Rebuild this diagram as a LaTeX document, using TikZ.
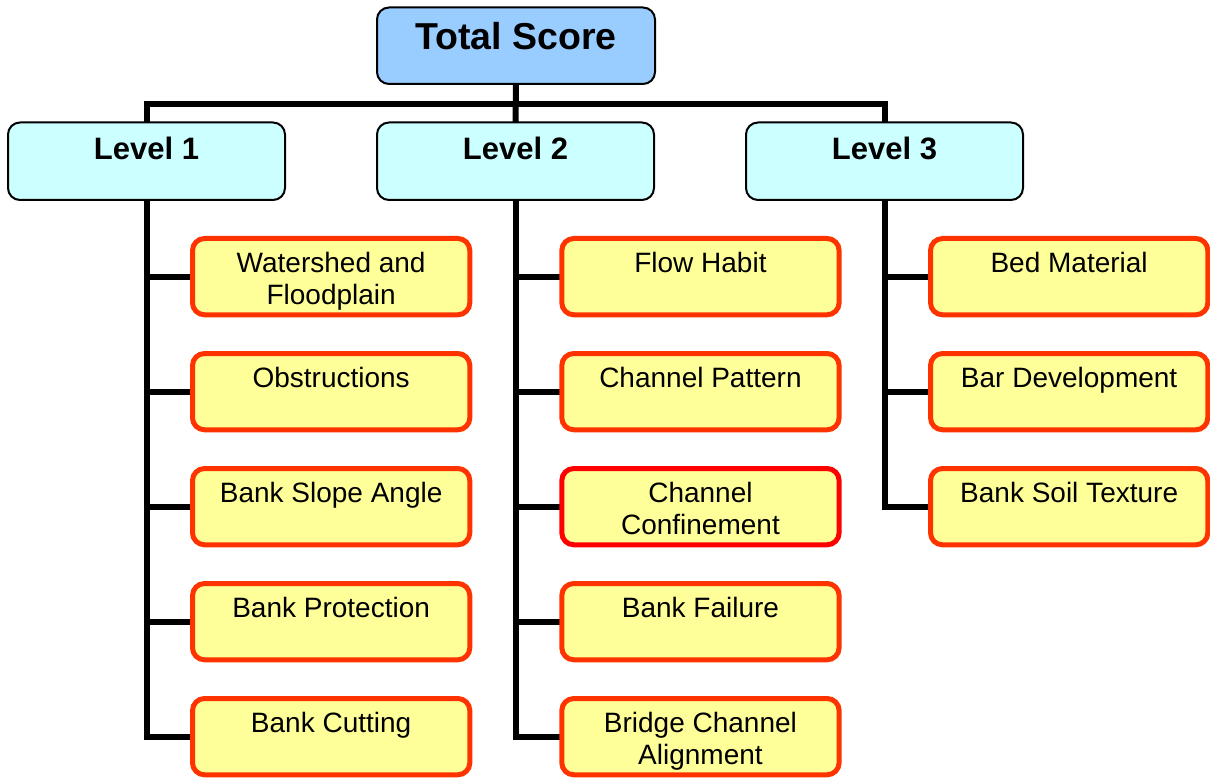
\documentclass[tikz,border=0pt]{standalone}
\usepackage{fontspec}
\setmainfont{Liberation Sans}
\usetikzlibrary{backgrounds}
\definecolor{totfill}{HTML}{99CCFF}
\definecolor{lvlfill}{HTML}{CCFFFF}
\definecolor{itemfill}{HTML}{FFFF99}
\definecolor{itemedge}{HTML}{FF3300}
\definecolor{rededge}{HTML}{FF0000}
\begin{document}
\begin{tikzpicture}[x=1pt,y=-1pt,
  totbox/.style={draw=black, line width=2pt, fill=totfill, rounded corners=12pt,
    minimum width=278pt, minimum height=76.5pt, inner sep=0pt, outer sep=0pt, anchor=north west,
    label={[anchor=north, inner sep=0pt, yshift=-15pt, font=\fontsize{37.5}{42}\selectfont\bfseries]north:#1}},
  lvlbox/.style={draw=black, line width=2pt, fill=lvlfill, rounded corners=12pt,
    minimum width=277pt, minimum height=77.5pt, inner sep=0pt, outer sep=0pt, anchor=north west,
    label={[anchor=north, inner sep=0pt, yshift=-13.9pt, font=\fontsize{31}{36}\selectfont\bfseries]north:#1}},
  itembox/.style={draw=itemedge, line width=5pt, fill=itemfill, rounded corners=12pt,
    minimum width=277.3pt, minimum height=76.3pt, inner sep=0pt, outer sep=0pt, anchor=north west,
    label={[anchor=north, inner sep=0pt, yshift=-13.2pt, align=center, font=\fontsize{28}{32.5}\selectfont]north:{#1}}},
  itemred/.style={itembox={#1}, draw=rededge},
  conn/.style={draw=black, line width=6pt, line join=miter}
]
\useasboundingbox (0,0) rectangle (1210,778);

\node[totbox={Total Score}] (tot) at (377,7.5) {};
\node[lvlbox={Level 1}] (l1) at (8,122.5) {};
\node[lvlbox={Level 2}] (l2) at (377,122.5) {};
\node[lvlbox={Level 3}] (l3) at (746,122.5) {};

\node[itembox={Watershed and\\Floodplain}] (a1) at (192.5,238.5) {};
\node[itembox={Obstructions}] (a2) at (192.5,353.5) {};
\node[itembox={Bank Slope Angle}] (a3) at (192.5,468.5) {};
\node[itembox={Bank Protection}] (a4) at (192.5,583.5) {};
\node[itembox={Bank Cutting}] (a5) at (192.5,698.5) {};

\node[itembox={Flow Habit}] (b1) at (561.8,238.5) {};
\node[itembox={Channel Pattern}] (b2) at (561.8,353.5) {};
\node[itemred={Channel\\Confinement}] (b3) at (561.8,468.5) {};
\node[itembox={Bank Failure}] (b4) at (561.8,583.5) {};
\node[itembox={Bridge Channel\\Alignment}] (b5) at (561.8,698.5) {};

\node[itembox={Bed Material}] (c1) at (930.5,238.5) {};
\node[itembox={Bar Development}] (c2) at (930.5,353.5) {};
\node[itembox={Bank Soil Texture}] (c3) at (930.5,468.5) {};

\coordinate (bar) at (516,103.7);

\begin{scope}[on background layer]
  \draw[conn] (tot.south) -- (l2.north);
  \draw[conn] (l1.north) |- (bar) -| (l3.north);
  \draw[conn] (l1.south) |- (a5.west);
  \foreach \n in {a1,a2,a3,a4} \draw[conn] (l1.south |- \n.west) -- (\n.west);
  \draw[conn] (l2.south) |- (b5.west);
  \foreach \n in {b1,b2,b3,b4} \draw[conn] (l2.south |- \n.west) -- (\n.west);
  \draw[conn] (l3.south) |- (c3.west);
  \foreach \n in {c1,c2} \draw[conn] (l3.south |- \n.west) -- (\n.west);
\end{scope}
\end{tikzpicture}
\end{document}
